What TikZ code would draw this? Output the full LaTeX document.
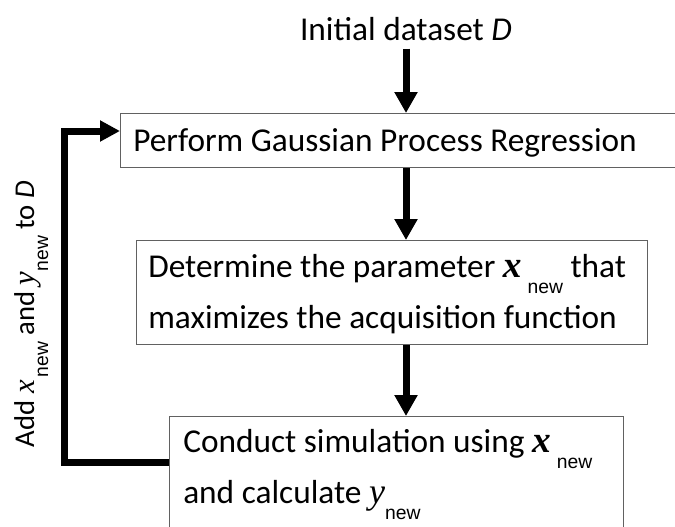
\documentclass[tikz,border=0pt]{standalone}
\usepackage{fontspec}
\setmainfont{Carlito}
\newfontfamily\subfont{Liberation Sans}
\newfontfamily\varfont{Liberation Serif}
\usetikzlibrary{arrows.meta,calc}
\newlength\pxu
\setlength\pxu{0.75pt}
% lowered "new" subscript, variable letters
\newcommand\nw[1][16]{\raisebox{-#1\pxu}{\fontsize{14.5pt}{16pt}\subfont new}}
\newcommand\bx{{\varfont\fontsize{28pt}{30pt}\selectfont\bfseries\itshape x}}
\newcommand\vx{{\varfont\itshape x}}
\newcommand\vy{{\varfont\itshape y}}
\newcommand\vD{{\itshape D}}

\begin{document}
\begin{tikzpicture}[x=0.75pt,y=-0.75pt,
  box/.style={draw=black!62, line width=1.4\pxu, fill=white, inner sep=0pt, anchor=north west},
  txt/.style={font=\fontsize{25pt}{30pt}\selectfont, inner sep=0pt},
  sidetxt/.style={font=\fontsize{21.5pt}{26pt}\selectfont, inner sep=0pt},
  flow/.style={line width=5.25pt, -{Triangle[length=15.75pt,width=16.5pt]}},
  loopline/.style={line width=5.25pt, line join=miter, -{Triangle[length=15pt,width=15pt]}}]
\useasboundingbox (0,0) rectangle (675,526);
\clip (0,0) rectangle (675,526);

% start label
\node[txt, anchor=base, inner ysep=8\pxu] (init) at (406,40) {Initial dataset \vD};

% step boxes
\node[box, minimum width=580\pxu, minimum height=54\pxu] (gpr) at (120,113) {};
\node[txt, anchor=base west] (gprtext) at (133,151) {Perform Gaussian Process Regression};

\node[box, minimum width=511\pxu, minimum height=104\pxu] (acq) at (136,240) {};
\node[txt, anchor=base west] (acqtext1) at (148,277) {Determine the parameter \bx\hspace{6\pxu}\nw\ that};
\node[txt, anchor=base west] (acqtext2) at (148,328) {maximizes the acquisition function};

\node[box, minimum width=454\pxu, minimum height=140\pxu] (sim) at (169,416) {};
\node[txt, anchor=base west] (simtext1) at (183,452) {Conduct simulation using \bx\hspace{6\pxu}\nw};
\node[txt, anchor=base west] (simtext2) at (183,503) {and calculate {\fontsize{27pt}{30pt}\selectfont\vy}\nw};

% main flow
\draw[flow] (init.south) -- (init.south |- gpr.north);
\draw[flow] (init.south |- gpr.south) -- (init.south |- acq.north);
\draw[flow] (init.south |- acq.south) -- (init.south |- sim.north);

% feedback loop
\draw[loopline] ($(sim.north west)+(0,46)$) -- ++(-105,0) |- ($(gpr.north west)+(0,18)$);
\node[sidetxt, rotate=90, anchor=base] (addlbl) at (34,314)
  {Add {\fontsize{23pt}{26pt}\selectfont\vx}\hspace{3\pxu}\nw[14]\ and {\fontsize{23pt}{26pt}\selectfont\vy}\nw[14]\ to \vD};
\end{tikzpicture}
\end{document}
